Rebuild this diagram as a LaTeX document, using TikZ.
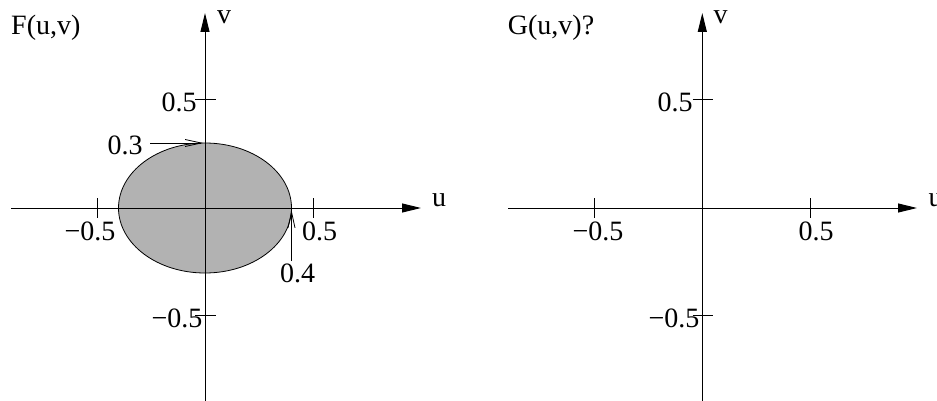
\documentclass[tikz,border=0pt]{standalone}
\usepackage{fontspec}
\setmainfont{Liberation Serif}
\usetikzlibrary{arrows.meta}
\begin{document}
\begin{tikzpicture}[x=1pt,y=-1pt,
  lbl/.style={inner sep=0pt,font=\fontsize{28}{32}\selectfont},
  axis/.style={line width=1pt,-{Triangle[length=19pt,width=9pt]}},
  tick/.style={line width=0.8pt},
  pointer/.style={line width=0.8pt,-{Straight Barb[length=16pt,width=7pt]}}]
\useasboundingbox (0,0) rectangle (937,401);
% ---------- left plot ----------
\coordinate (O1) at (205,208);
\fill[fill=black!30] (O1) ellipse [x radius=86.5pt, y radius=65pt];
\draw[line width=0.8pt] (O1) ellipse [x radius=86.5pt, y radius=65pt];
\coordinate (u1s) at (11,208);
\coordinate (u1e) at (421,208);
\coordinate (v1s) at (205,401);
\coordinate (v1e) at (205,13);
\draw[axis] (u1s) -- (u1e);
\draw[axis] (v1s) -- (v1e);
\coordinate (t1a) at (97,198); \coordinate (t1b) at (97,218);
\coordinate (t1c) at (313,198); \coordinate (t1d) at (313,218);
\coordinate (t1e) at (195,99.5); \coordinate (t1f) at (216,99.5);
\coordinate (t1g) at (195,315); \coordinate (t1h) at (216,315);
\draw[tick] (t1a) -- (t1b) (t1c) -- (t1d) (t1e) -- (t1f) (t1g) -- (t1h);
\node[lbl,anchor=west] (F) at (11,28) {F(u,v)};
\node[lbl] (v1) at (224,17) {v};
\node[lbl] (u1) at (439,200) {u};
\node[lbl] (v1p) at (179,102) {0.5};
\node[lbl] (v1m) at (177,318) {−0.5};
\node[lbl] (u1m) at (90,231) {−0.5};
\node[lbl] (u1p) at (319.5,231) {0.5};
\node[lbl] (l03) at (125,145.5) {0.3};
\node[lbl] (l04) at (297.5,273.5) {0.4};
\coordinate (a3s) at (150,143); \coordinate (a3e) at (203,143);
\coordinate (a4s) at (291.5,261); \coordinate (a4e) at (291.5,210);
\draw[pointer] (a3s) -- (a3e);
\draw[pointer] (a4s) -- (a4e);
% ---------- right plot ----------
\coordinate (u2s) at (508,208);
\coordinate (u2e) at (917,208);
\coordinate (v2s) at (702.3,401);
\coordinate (v2e) at (702.3,13);
\draw[axis] (u2s) -- (u2e);
\draw[axis] (v2s) -- (v2e);
\coordinate (t2a) at (594,198); \coordinate (t2b) at (594,218);
\coordinate (t2c) at (810.3,198); \coordinate (t2d) at (810.3,218);
\coordinate (t2e) at (692.5,99.5); \coordinate (t2f) at (712.5,99.5);
\coordinate (t2g) at (692.5,315); \coordinate (t2h) at (712.5,315);
\draw[tick] (t2a) -- (t2b) (t2c) -- (t2d) (t2e) -- (t2f) (t2g) -- (t2h);
\node[lbl,anchor=west] (G) at (507.7,28) {G(u,v)?};
\node[lbl] (v2) at (720.7,17) {v};
\node[lbl] (u2) at (935.5,200) {u};
\node[lbl] (v2p) at (675,102) {0.5};
\node[lbl] (v2m) at (674,318) {−0.5};
\node[lbl] (u2m) at (598,231) {−0.5};
\node[lbl] (u2p) at (816,231) {0.5};
\end{tikzpicture}
\end{document}
